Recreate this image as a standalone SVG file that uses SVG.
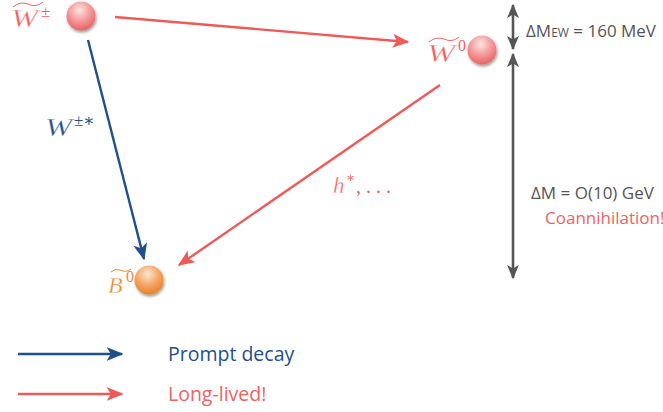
<svg xmlns="http://www.w3.org/2000/svg" width="663" height="412" viewBox="0 0 663 412">
<style>
.math{font-family:"Liberation Serif","DejaVu Serif",serif;font-style:italic;stroke:#ffffff;stroke-width:0.35}
.up{font-family:"Liberation Serif","DejaVu Serif",serif}
.sans{font-family:"Open Sans","Liberation Sans",sans-serif}
.red{fill:#f06262}
.blue{fill:#1f4f8c}
.orange{fill:#f08a2c}
.grey{fill:#555555}
.lr{stroke:#ee5a58;stroke-width:2.4;fill:none}
.lb{stroke:#1f4f8c;stroke-width:2.4;fill:none}
.lg{stroke:#555555;stroke-width:2.6;fill:none}
</style>
<defs>
<marker id="ar" viewBox="0 0 12 10" refX="11" refY="5" markerWidth="7" markerHeight="6" orient="auto" markerUnits="strokeWidth"><path d="M0,0 L12,5 L0,10 L3,5 Z" fill="#ee5a58"/></marker>
<marker id="ab" viewBox="0 0 12 10" refX="11" refY="5" markerWidth="7" markerHeight="6" orient="auto" markerUnits="strokeWidth"><path d="M0,0 L12,5 L0,10 L3,5 Z" fill="#1f4f8c"/></marker>
<marker id="ag" viewBox="0 0 12 10" refX="11" refY="5" markerWidth="5.5" markerHeight="5.5" orient="auto" markerUnits="strokeWidth"><path d="M0,0 L12,5 L0,10 L3,5 Z" fill="#555555"/></marker>
<radialGradient id="gr" cx="0.45" cy="0.3" r="0.75"><stop offset="0" stop-color="#fde3e3"/><stop offset="0.5" stop-color="#f49a9a"/><stop offset="1" stop-color="#e85a5a"/></radialGradient>
<radialGradient id="go" cx="0.45" cy="0.3" r="0.75"><stop offset="0" stop-color="#fde8d6"/><stop offset="0.5" stop-color="#f4a868"/><stop offset="1" stop-color="#e87a1c"/></radialGradient>
<filter id="sh" x="-50%" y="-50%" width="200%" height="200%"><feGaussianBlur in="SourceAlpha" stdDeviation="1.5"/><feOffset dx="1" dy="2" result="b"/><feComponentTransfer><feFuncA type="linear" slope="0.4"/></feComponentTransfer><feMerge><feMergeNode/><feMergeNode in="SourceGraphic"/></feMerge></filter>
</defs>

<g id="connectors">
<line class="lr" x1="115" y1="17" x2="408" y2="42" marker-end="url(#ar)"/>
<line class="lb" x1="88" y1="40" x2="144" y2="259" marker-end="url(#ab)"/>
<line class="lr" x1="440" y1="85" x2="179" y2="265" marker-end="url(#ar)"/>
<line class="lg" x1="513" y1="22" x2="513" y2="5" marker-end="url(#ag)"/>
<line class="lg" x1="513" y1="22" x2="513" y2="49" marker-end="url(#ag)"/>
<line class="lg" x1="513" y1="150" x2="513" y2="54" marker-end="url(#ag)"/>
<line class="lg" x1="513" y1="150" x2="513" y2="278" marker-end="url(#ag)"/>
</g>

<g id="node-wpm">
<circle cx="81" cy="16" r="14.5" fill="url(#gr)" filter="url(#sh)"/>
<path d="M13,7 Q20,1 28,4 Q36,8 43,2" stroke="#f06262" stroke-width="1" fill="none"/>
<text x="11" y="27" class="math red" font-size="25" textLength="27" lengthAdjust="spacingAndGlyphs">W</text>
<text x="41" y="17" class="up red" font-size="17">±</text>
</g>

<g id="node-w0">
<circle cx="482" cy="50" r="14.5" fill="url(#gr)" filter="url(#sh)"/>
<path d="M429,42 Q436,36 444,39 Q452,43 459,37" stroke="#f06262" stroke-width="1" fill="none"/>
<text x="427" y="62" class="math red" font-size="25" textLength="28" lengthAdjust="spacingAndGlyphs">W</text>
<text x="458" y="51" class="up red" font-size="16">0</text>
</g>

<g id="node-b0">
<circle cx="149" cy="280" r="14.5" fill="url(#go)" filter="url(#sh)"/>
<path d="M111,272 Q115,268 120,270 Q126,273 131,269" stroke="#f08a2c" stroke-width="1" fill="none"/>
<text x="108" y="293" class="math orange" font-size="24">B</text>
<text x="126" y="282" class="up orange" font-size="16">0</text>
</g>

<g id="labels">
<text x="45" y="136" class="math blue" font-size="25" textLength="27" lengthAdjust="spacingAndGlyphs">W</text>
<text x="74" y="126" class="up blue" font-size="17">±∗</text>
<text x="333" y="193" class="math red" font-size="23">h</text>
<text x="346" y="182" class="up red" font-size="14">∗</text>
<text x="356" y="193" class="up red" font-size="20">, . . .</text>
<text x="526" y="37" class="sans grey" font-size="17">ΔM<tspan font-size="12">EW</tspan> = 160 MeV</text>
<text x="531" y="199" class="sans grey" font-size="17">ΔM = O(10) GeV</text>
<text x="545" y="224" class="sans red" font-size="17">Coannihilation!</text>
</g>

<g id="legend">
<line class="lb" x1="18" y1="354" x2="122" y2="354" marker-end="url(#ab)"/>
<text x="168" y="361" class="sans blue" font-size="19.5">Prompt decay</text>
<line class="lr" x1="18" y1="394" x2="122" y2="394" marker-end="url(#ar)"/>
<text x="168" y="401" class="sans red" font-size="19.5">Long-lived!</text>
</g>
</svg>
